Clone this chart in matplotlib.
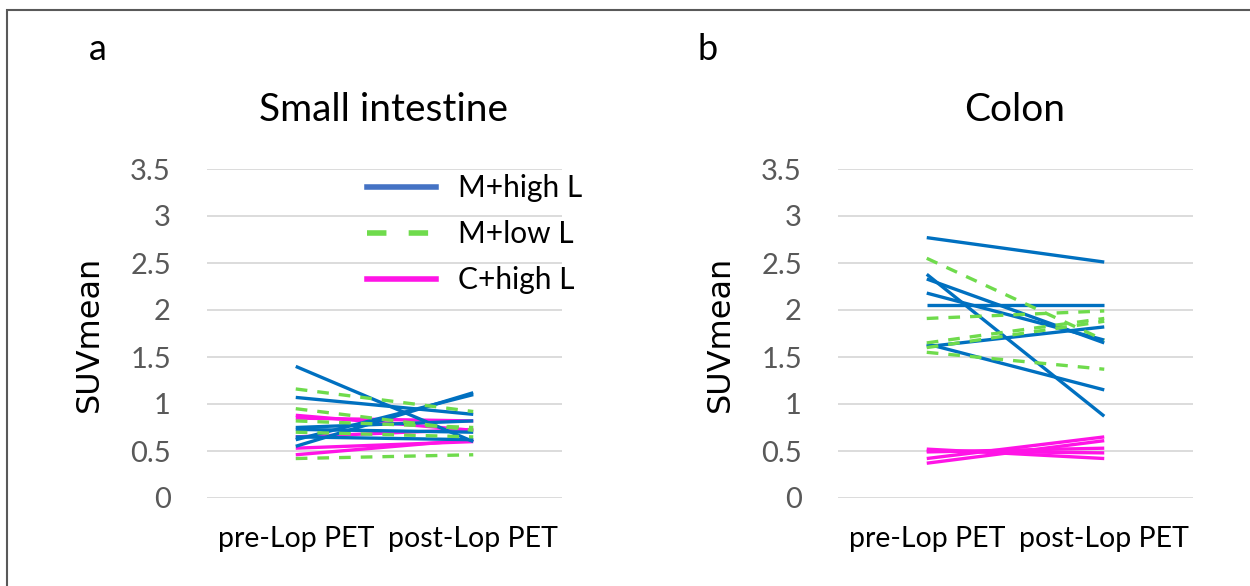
import matplotlib.pyplot as plt
from matplotlib.lines import Line2D
from matplotlib.patches import Rectangle

plt.rcParams['font.family'] = ['Lato', 'DejaVu Sans']

categories = ["pre-Lop PET", "post-Lop PET"]
yticks = [0, 0.5, 1, 1.5, 2, 2.5, 3, 3.5]
ytick_labels = ["0", "0.5", "1", "1.5", "2", "2.5", "3", "3.5"]
groups = ["M+high L", "M+low L", "C+high L"]

# small intestine (pre, post) per patient
small_pre_mh = [1.40, 1.07, 0.55, 0.62, 0.75, 0.73, 0.65]
small_post_mh = [0.60, 0.89, 1.12, 1.10, 0.82, 0.70, 0.62]
small_pre_ml = [1.16, 0.95, 0.82, 0.70, 0.42]
small_post_ml = [0.92, 0.72, 0.75, 0.65, 0.46]
small_pre_ch = [0.88, 0.85, 0.65, 0.53, 0.46]
small_post_ch = [0.72, 0.82, 0.73, 0.60, 0.62]

# colon
colon_pre_mh = [2.77, 2.38, 2.33, 2.18, 2.05, 1.61, 1.64]
colon_post_mh = [2.51, 0.87, 1.65, 1.68, 2.05, 1.82, 1.15]
colon_pre_ml = [2.55, 1.91, 1.65, 1.60, 1.55]
colon_post_ml = [1.68, 1.99, 1.91, 1.88, 1.37]
colon_pre_ch = [0.52, 0.49, 0.42, 0.37, 0.50]
colon_post_ch = [0.42, 0.53, 0.65, 0.61, 0.48]

BLUE = "#0070C0"
GREEN = "#6FDB4C"
PINK = "#FF14E6"
LEG_BLUE = "#4472C4"
GRID = "#D9D9D9"
TICK = "#595959"

W, H = 1250, 586


def panel(fig, left_px, pre_ch, post_ch, pre_mh, post_mh, pre_ml, post_ml, title, letter, letter_x):
    ax = fig.add_axes([left_px / W, 1 - 498 / H, 355 / W, (498 - 169) / H])
    for a, b in zip(pre_ch, post_ch):
        ax.plot([0, 1], [a, b], color=PINK, lw=2.4, solid_capstyle="butt")
    for a, b in zip(pre_mh, post_mh):
        ax.plot([0, 1], [a, b], color=BLUE, lw=2.4, solid_capstyle="butt")
    for a, b in zip(pre_ml, post_ml):
        ax.plot([0, 1], [a, b], color=GREEN, lw=2.4, ls=(0, (3.5, 3)))
    ax.set_xlim(-0.5, 1.5)
    ax.set_ylim(0, 3.5)
    ax.set_yticks(yticks)
    ax.set_yticklabels(ytick_labels)
    ax.set_xticks([0, 1])
    ax.set_xticklabels(categories)
    ax.tick_params(axis="y", length=0, pad=26, labelsize=21, labelcolor=TICK)
    ax.tick_params(axis="x", length=0, pad=20, labelsize=20.5, labelcolor="black")
    ax.yaxis.grid(True, color=GRID, lw=1.3)
    ax.set_axisbelow(True)
    for s in ax.spines.values():
        s.set_visible(False)
    ax.set_ylabel("SUVmean", fontsize=23, family="DejaVu Sans", labelpad=18)
    fig.text((left_px + 177) / W, 1 - 110 / H, title, fontsize=28, ha="center", va="center")
    fig.text(letter_x / W, 1 - 50 / H, letter, fontsize=26, ha="center", va="center")
    return ax


def main():
    fig = plt.figure(figsize=(12.5, 5.86), dpi=100)
    fig.patches.append(Rectangle((7 / W, -0.1), 1.2, 1.1 - 10 / H, transform=fig.transFigure,
                                 fill=False, edgecolor="#595959", lw=1.5))

    ax1 = panel(fig, 207, small_pre_ch, small_post_ch, small_pre_mh, small_post_mh,
                small_pre_ml, small_post_ml, "Small intestine", "a", 98)
    panel(fig, 838, colon_pre_ch, colon_post_ch, colon_pre_mh, colon_post_mh,
          colon_pre_ml, colon_post_ml, "Colon", "b", 708)

    handles = [
        Line2D([], [], color=LEG_BLUE, lw=4),
        Line2D([], [], color=GREEN, lw=4, ls=(0, (3.5, 4))),
        Line2D([], [], color=PINK, lw=4),
    ]
    ax1.legend(handles, groups, loc="upper left", bbox_to_anchor=(0.375, 1.065), frameon=False,
               fontsize=21.5, handlelength=2.3, handletextpad=0.75, labelspacing=0.6)

    fig.savefig("out.png", dpi=100)


if __name__ == "__main__":
    main()
